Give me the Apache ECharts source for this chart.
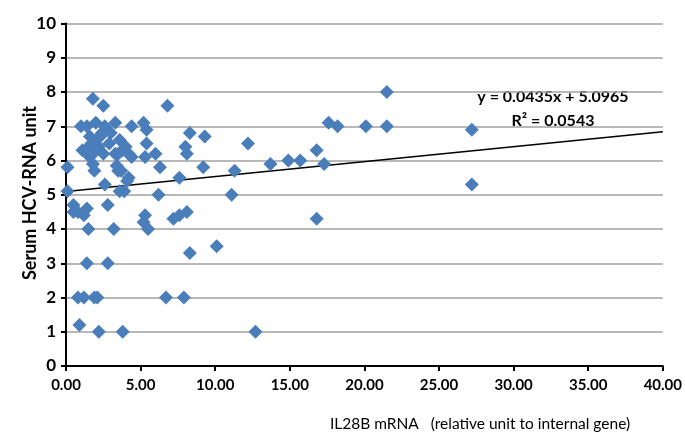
<!DOCTYPE html>
<html><head><meta charset="utf-8">
<script src="https://cdn.jsdelivr.net/npm/echarts@6/dist/echarts.min.js"></script>
<style>html,body{margin:0;padding:0;background:#fff}#c{width:685px;height:440px}</style>
</head><body><div id="c"></div>
<script>
const xTickLabels = ['0.00','5.00','10.00','15.00','20.00','25.00','30.00','35.00','40.00'];
const yTickLabels = ['0','1','2','3','4','5','6','7','8','9','10'];
const xValues = [27.2,27.2,21.5,21.5,20.1,18.2,17.6,16.8,17.3,16.8,15.7,14.9,13.7,12.2,11.3,11.1,12.7,10.1,9.3,9.2,8.3,8.0,8.1,8.3,8.1,7.6,7.2,7.6,6.8,6.7,7.9,6.3,6.2,6.0,5.4,5.2,5.4,5.3,5.3,5.2,5.5,
  4.4,4.2,4.1,3.9,3.6,3.8,2.2,0.9,0.8,1.2,1.9,2.1,1.4,2.8,1.5,3.2,2.8,2.6,0.1,0.1,0.5,0.5,0.8,1.2,1.4,
  1.8,2.5,1.0,1.4,2.0,2.6,3.3,3.0,2.4,1.6,2.0,2.3,2.9,3.6,3.8,4.2,4.4,1.3,1.8,1.6,2.5,3.3,3.5,1.8,1.9,3.4,3.7,3.5,2.2,1.1,4.0,1.7];
const yValues = [6.9,5.3,8.0,7.0,7.0,7.0,7.1,6.3,5.9,4.3,6.0,6.0,5.9,6.5,5.7,5.0,1.0,3.5,6.7,5.8,6.8,6.4,6.2,3.3,4.5,4.4,4.3,5.5,7.6,2.0,2.0,5.8,5.0,6.2,6.9,7.1,6.5,6.1,4.4,4.2,4.0,
  7.0,5.5,5.4,5.1,5.1,1.0,1.0,1.2,2.0,2.0,2.0,2.0,3.0,3.0,4.0,4.0,4.7,5.3,5.8,5.1,4.7,4.5,4.5,4.4,4.6,
  7.8,7.6,7.0,7.0,7.1,7.0,7.1,6.8,6.8,6.7,6.6,6.7,6.5,6.6,6.3,6.2,6.1,6.3,6.2,6.1,6.2,6.2,6.2,5.9,5.7,5.85,5.7,5.7,6.4,6.3,6.4,6.5];
const trendSlope = 0.0435, trendIntercept = 5.0965;
const trendX = [0, 40];
const eqText = 'y = 0.0435x + 5.0965';
const r2Text = 'R² = 0.0543';

const points = xValues.map((x,i)=>[x,yValues[i]]);
const trend = trendX.map(x=>[x, trendSlope*x+trendIntercept]);
const FF = 'Lato, "Open Sans", sans-serif';

const chart = echarts.init(document.getElementById('c'));
chart.setOption({
  animation:false,
  grid:{left:66,right:20,top:23.5,bottom:74,containLabel:false},
  xAxis:{type:'value',min:0,max:40,interval:5,
    axisLine:{lineStyle:{color:'#000',width:2}},
    axisTick:{show:true,length:5,lineStyle:{color:'#000',width:2}},
    splitLine:{show:false},
    axisLabel:{formatter:(v)=>xTickLabels[Math.round(v/5)],color:'#000',fontFamily:FF,fontWeight:'bold',fontSize:15,margin:12}
  },
  yAxis:{type:'value',min:0,max:10,interval:1,
    axisLine:{show:true,lineStyle:{color:'#000',width:2}},
    axisTick:{show:true,length:5,lineStyle:{color:'#000',width:2}},
    splitLine:{show:true,lineStyle:{color:'#a0a0a0',width:1.5}},
    axisLabel:{formatter:(v)=>yTickLabels[Math.round(v)],color:'#000',fontFamily:FF,fontWeight:'bold',fontSize:17,margin:10}
  },
  graphic:[
    {type:'text',x:480,y:424,style:{text:'IL28B mRNA   (relative unit to internal gene)',fontFamily:FF,fontSize:15.5,fill:'#000',align:'center',verticalAlign:'middle'}},
    {type:'text',x:30,y:193,rotation:Math.PI/2,style:{text:'Serum HCV-RNA unit',fontFamily:FF,fontWeight:'bold',fontSize:18,fill:'#000',align:'center',verticalAlign:'middle'}},
    {type:'text',x:553,y:97,style:{text:eqText,fontFamily:FF,fontWeight:'bold',fontSize:16,fill:'#000',align:'center',verticalAlign:'middle'}},
    {type:'text',x:553,y:121,style:{text:r2Text,fontFamily:FF,fontWeight:'bold',fontSize:16,fill:'#000',align:'center',verticalAlign:'middle'}}
  ],
  series:[
    {type:'line',data:trend,symbol:'none',lineStyle:{color:'#000',width:1.5},z:3},
    {type:'scatter',data:points,symbol:'diamond',symbolSize:14,itemStyle:{color:'#4a7ebb',opacity:1},z:4}
  ]
});
</script></body></html>
